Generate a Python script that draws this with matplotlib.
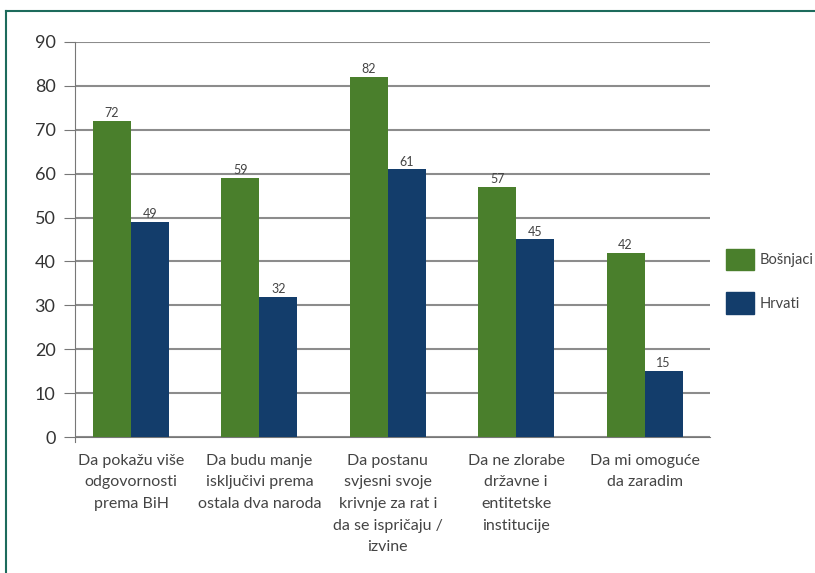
import numpy as np
import matplotlib.pyplot as plt
from matplotlib.patches import Rectangle
from matplotlib.lines import Line2D

categories = [
    "Da pokažu više\nodgovornosti\nprema BiH",
    "Da budu manje\nisključivi prema\nostala dva naroda",
    "Da postanu\nsvjesni svoje\nkrivnje za rat i\nda se ispričaju /\nizvine",
    "Da ne zlorabe\ndržavne i\nentitetske\ninstitucije",
    "Da mi omoguće\nda zaradim",
]
bosnjaci = [72, 59, 82, 57, 42]
hrvati = [49, 32, 61, 45, 15]
series_names = ["Bošnjaci", "Hrvati"]

GREEN = "#4a7f2c"
BLUE = "#133d6b"
GRID = "#8c8c8c"
TXT = "#444444"

plt.rcParams["font.family"] = ["Lato", "DejaVu Sans"]

fig = plt.figure(figsize=(8.15, 5.73), dpi=100)
W, H = 815, 573
ax = fig.add_axes([75 / W, 1 - 437 / H, (710 - 75) / W, (437 - 42) / H])

x = np.arange(len(categories))
bw = 0.296
ax.bar(x - bw / 2, bosnjaci, bw, color=GREEN, zorder=3, label=series_names[0])
ax.bar(x + bw / 2, hrvati, bw, color=BLUE, zorder=3, label=series_names[1])

for xi, v in zip(x - bw / 2, bosnjaci):
    ax.text(xi, v + 0.4, str(v), ha="center", va="bottom", fontsize=9, color=TXT)
for xi, v in zip(x + bw / 2, hrvati):
    ax.text(xi, v + 0.4, str(v), ha="center", va="bottom", fontsize=9, color=TXT)

ax.set_xlim(-0.437, 4.51)
ax.set_ylim(0, 90)
ax.set_yticks(range(0, 91, 10))
ax.yaxis.grid(True, color=GRID, linewidth=1.5, zorder=0)
ax.set_axisbelow(True)
for s in ["top", "right"]:
    ax.spines[s].set_visible(False)
ax.spines["left"].set_color("#777777")
ax.spines["bottom"].set_color("#777777")
ax.spines["left"].set_bounds(-1.2, 90)
ax.tick_params(axis="y", length=8, color="#777777", labelsize=13, labelcolor="#333333", pad=6)
ax.tick_params(axis="x", length=0, labelsize=11.5, labelcolor=TXT, pad=12)
ax.set_xticks(x)
ax.set_xticklabels(categories, linespacing=1.7)
ax.spines["left"].set_clip_on(False)

# legend
handles = [Rectangle((0, 0), 1, 1, color=GREEN), Rectangle((0, 0), 1, 1, color=BLUE)]
fig.legend(handles, series_names, loc="upper left", bbox_to_anchor=(720 / W, 1 - 243 / H),
           frameon=False, fontsize=10.5, handlelength=1.9, handleheight=1.9,
           labelspacing=1.5, handletextpad=0.45, labelcolor=TXT, borderaxespad=0)

# page frame
fig.add_artist(Line2D([6 / W, 6 / W], [0, 1 - 11 / H], transform=fig.transFigure, color="#1d6b5c", linewidth=1.5))
fig.add_artist(Line2D([6 / W, 1], [1 - 11 / H, 1 - 11 / H], transform=fig.transFigure, color="#1d6b5c", linewidth=1.5))

fig.savefig("out.png", dpi=100)
